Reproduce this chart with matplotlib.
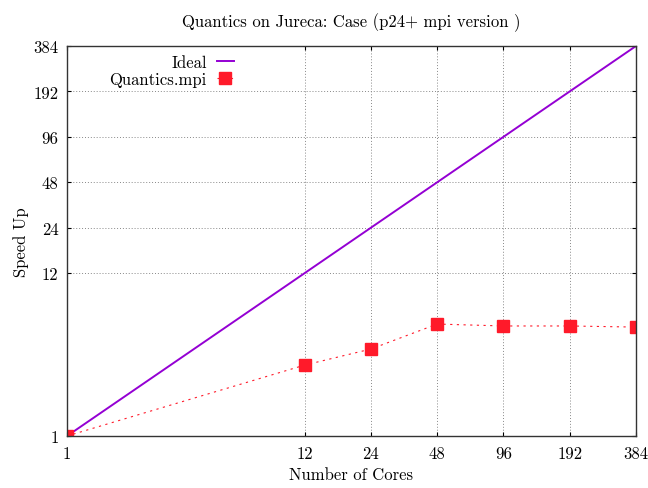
import matplotlib
matplotlib.use("Agg")
import matplotlib.pyplot as plt

plt.rcParams['font.family'] = ['cmr10', 'DejaVu Serif']
plt.rcParams['mathtext.fontset'] = 'cm'
plt.rcParams['axes.formatter.use_mathtext'] = True

cores = [1, 12, 24, 48, 96, 192, 384]
ideal = [1, 12, 24, 48, 96, 192, 384]
speedup = [1.0, 2.95, 3.77, 5.52, 5.36, 5.36, 5.27]
ticks = [1, 12, 24, 48, 96, 192, 384]

fig = plt.figure(figsize=(6.48, 4.89), dpi=100)
ax = fig.add_axes([0.1034, 0.1063, 0.8781, 0.7976])

ax.plot(cores, ideal, color='#9400d3', lw=1.4, label='Ideal')
ax.plot(cores, speedup, color='#ff1a2a', ls=(0, (2, 4)), lw=0.8,
        marker='s', ms=9, mec='#ff1a2a', mfc='#ff1a2a', label='Quantics.mpi')

ax.set_xscale('log', base=2)
ax.set_yscale('log', base=2)
ax.set_xlim(1, 384)
ax.set_ylim(1, 384)
ax.set_xticks(ticks)
ax.set_xticklabels([str(t) for t in ticks])
ax.set_yticks(ticks)
ax.set_yticklabels([str(t) for t in ticks])
ax.minorticks_off()
ax.tick_params(labelsize=12, direction='in', top=True, right=True, length=3)
ax.tick_params(axis='x', pad=7)
ax.tick_params(axis='y', pad=6)
ax.grid(True, color='#888888', ls=(0, (1, 2)), lw=0.7)
for s in ax.spines.values():
    s.set_linewidth(1.0)
    s.set_color('#333333')

ax.set_xlabel('Number of Cores', fontsize=12, labelpad=4)
ax.set_ylabel('Speed Up', fontsize=12, labelpad=3)
ax.set_title('Quantics on Jureca: Case (p24+ mpi version )', fontsize=12, pad=14)

ax.legend(loc='upper left', markerfirst=False, frameon=False, fontsize=12,
          handlelength=1.0, handletextpad=0.6, borderaxespad=0.1,
          labelspacing=0.1, bbox_to_anchor=(0.06, 1.0))

fig.savefig('out.png', dpi=100)
